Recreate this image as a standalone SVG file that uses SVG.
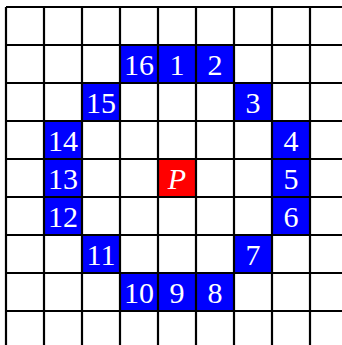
<svg xmlns="http://www.w3.org/2000/svg" width="342" height="345" viewBox="0 0 342 345">
<style>
.b{fill:#0000ff}
.r{fill:#ff0000}
.g{stroke:#000;stroke-width:2.2;fill:none}
</style>
<rect width="342" height="345" fill="#fff"/>
<g id="n1"><rect class="b" x="158" y="45" width="38" height="38"/><text font-family="Liberation Serif" font-size="30" fill="#fff" text-anchor="middle" x="177" y="74.5">1</text></g>
<g id="n2"><rect class="b" x="196" y="45" width="38" height="38"/><text font-family="Liberation Serif" font-size="30" fill="#fff" text-anchor="middle" x="215" y="74.5">2</text></g>
<g id="n3"><rect class="b" x="234" y="83" width="38" height="38"/><text font-family="Liberation Serif" font-size="30" fill="#fff" text-anchor="middle" x="253" y="112.5">3</text></g>
<g id="n4"><rect class="b" x="272" y="121" width="38" height="38"/><text font-family="Liberation Serif" font-size="30" fill="#fff" text-anchor="middle" x="291" y="150.5">4</text></g>
<g id="n5"><rect class="b" x="272" y="159" width="38" height="38"/><text font-family="Liberation Serif" font-size="30" fill="#fff" text-anchor="middle" x="291" y="188.5">5</text></g>
<g id="n6"><rect class="b" x="272" y="197" width="38" height="38"/><text font-family="Liberation Serif" font-size="30" fill="#fff" text-anchor="middle" x="291" y="226.5">6</text></g>
<g id="n7"><rect class="b" x="234" y="235" width="38" height="38"/><text font-family="Liberation Serif" font-size="30" fill="#fff" text-anchor="middle" x="253" y="264.5">7</text></g>
<g id="n8"><rect class="b" x="196" y="273" width="38" height="38"/><text font-family="Liberation Serif" font-size="30" fill="#fff" text-anchor="middle" x="215" y="302.5">8</text></g>
<g id="n9"><rect class="b" x="158" y="273" width="38" height="38"/><text font-family="Liberation Serif" font-size="30" fill="#fff" text-anchor="middle" x="177" y="302.5">9</text></g>
<g id="n10"><rect class="b" x="120" y="273" width="38" height="38"/><text font-family="Liberation Serif" font-size="30" fill="#fff" text-anchor="middle" x="139" y="302.5">10</text></g>
<g id="n11"><rect class="b" x="82" y="235" width="38" height="38"/><text font-family="Liberation Serif" font-size="30" fill="#fff" text-anchor="middle" x="101" y="264.5">11</text></g>
<g id="n12"><rect class="b" x="44" y="197" width="38" height="38"/><text font-family="Liberation Serif" font-size="30" fill="#fff" text-anchor="middle" x="63" y="226.5">12</text></g>
<g id="n13"><rect class="b" x="44" y="159" width="38" height="38"/><text font-family="Liberation Serif" font-size="30" fill="#fff" text-anchor="middle" x="63" y="188.5">13</text></g>
<g id="n14"><rect class="b" x="44" y="121" width="38" height="38"/><text font-family="Liberation Serif" font-size="30" fill="#fff" text-anchor="middle" x="63" y="150.5">14</text></g>
<g id="n15"><rect class="b" x="82" y="83" width="38" height="38"/><text font-family="Liberation Serif" font-size="30" fill="#fff" text-anchor="middle" x="101" y="112.5">15</text></g>
<g id="n16"><rect class="b" x="120" y="45" width="38" height="38"/><text font-family="Liberation Serif" font-size="30" fill="#fff" text-anchor="middle" x="139" y="74.5">16</text></g>
<g id="nP"><rect class="r" x="158" y="159" width="38" height="38"/><text font-family="Liberation Serif" font-size="30" fill="#fff" text-anchor="middle" x="177" y="188.5" font-style="italic">P</text></g>
<g id="grid" class="g">
<path d="M6 7V345M44 7V345M82 7V345M120 7V345M158 7V345M196 7V345M234 7V345M272 7V345M310 7V345"/>
<path d="M6 7H342M6 45H342M6 83H342M6 121H342M6 159H342M6 197H342M6 235H342M6 273H342M6 311H342"/>
</g>
</svg>
